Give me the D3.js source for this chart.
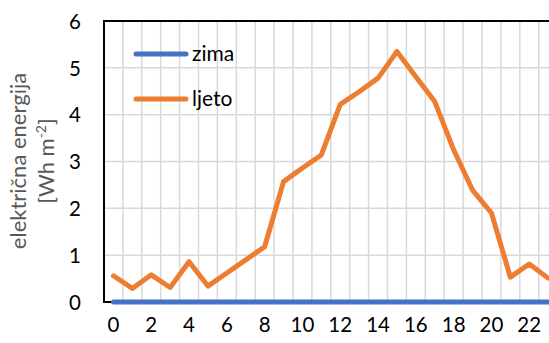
<!DOCTYPE html>
<html><head><meta charset="utf-8">
<script src="https://cdn.jsdelivr.net/npm/d3@7"></script>
<style>body{margin:0;background:#fff;overflow:hidden}svg{display:block}</style>
</head><body>
<script>
const hours = d3.range(0, 24);
const xTickLabels = [0,2,4,6,8,10,12,14,16,18,20,22];
const yTicks = [0,1,2,3,4,5,6];
const zima = [0,0,0,0,0,0,0,0,0,0,0,0,0,0,0,0,0,0,0,0,0,0,0,0];
const ljeto = [0.56,0.29,0.58,0.31,0.86,0.34,0.62,0.9,1.18,2.57,2.86,3.14,4.22,4.49,4.78,5.35,4.81,4.28,3.25,2.39,1.9,0.53,0.81,0.51];
const seriesNames = ["zima","ljeto"];
const colors = ["#4472C4","#ED7D31"];

(function(){
const W = 549, H = 343;
const font = "Lato, 'Open Sans', sans-serif";
const svg = d3.select("body").append("svg").attr("width", W).attr("height", H);
const pl = 104, pt = 21, pb = 302, band = 18.9;
const x = d3.scaleBand().domain(hours).range([pl, pl + band*24]).paddingInner(0).paddingOuter(0);
const y = d3.scaleLinear().domain([0,6]).range([pb, pt]);
const cx = h => x(h) + x.bandwidth()/2;

// grid
const g = svg.append("g");
g.selectAll("line.v").data(d3.range(1,25)).join("line")
  .attr("x1", i => pl + i*x.bandwidth()).attr("x2", i => pl + i*x.bandwidth())
  .attr("y1", pt).attr("y2", pb).attr("stroke", "#D9D9D9").attr("stroke-width", 1.5);
g.selectAll("line.h").data(yTicks.slice(1,6)).join("line")
  .attr("x1", pl).attr("x2", W).attr("y1", d => y(d)).attr("y2", d => y(d))
  .attr("stroke", "#D9D9D9").attr("stroke-width", 1.5);

// frame
svg.append("line").attr("x1", pl).attr("x2", W).attr("y1", pt).attr("y2", pt).attr("stroke", "#000").attr("stroke-width", 2);
svg.append("line").attr("x1", pl).attr("x2", pl).attr("y1", pt-1).attr("y2", pb+1).attr("stroke", "#000").attr("stroke-width", 2);
svg.append("line").attr("x1", pl-1).attr("x2", W).attr("y1", pb).attr("y2", pb).attr("stroke", "#000").attr("stroke-width", 2);

// axes labels
const yAxis = d3.axisLeft(y).tickValues(yTicks).tickFormat(d3.format("d")).tickSize(0).tickPadding(0);
const ya = svg.append("g").attr("transform", `translate(81,0)`).call(yAxis);
ya.select(".domain").remove();
ya.selectAll("text").attr("font-family", font).attr("font-size", 20.5).attr("fill", "#000").attr("dy", "0.35em");

const xAxis = d3.axisBottom(x).tickValues(xTickLabels).tickSize(0).tickPadding(0);
const xa = svg.append("g").attr("transform", `translate(0,317)`).call(xAxis);
xa.select(".domain").remove();
xa.selectAll("text").attr("font-family", font).attr("font-size", 20.5).attr("fill", "#000").attr("dy", "0.71em");

// lines
const line = d3.line().x((d,i) => cx(hours[i])).y(d => y(d));
[zima, ljeto].forEach((s, k) => {
  svg.append("path").datum(s).attr("d", line).attr("fill", "none")
    .attr("stroke", colors[k]).attr("stroke-width", 5)
    .attr("stroke-linejoin", "round").attr("stroke-linecap", "round");
});

// legend
const legY = [54, 99];
seriesNames.forEach((n, k) => {
  svg.append("line").attr("x1", 136).attr("x2", 186).attr("y1", legY[k]).attr("y2", legY[k])
    .attr("stroke", colors[k]).attr("stroke-width", 5).attr("stroke-linecap", "round");
  svg.append("text").attr("x", 192).attr("y", legY[k]).attr("dy", "0.35em")
    .attr("font-family", font).attr("font-size", 21).attr("fill", "#000").text(n);
});

// y title
const t = svg.append("text").attr("transform", "translate(33,161) rotate(-90)")
  .attr("text-anchor", "middle").attr("font-family", font).attr("font-size", 22).attr("fill", "#595959");
t.append("tspan").attr("x", 0).attr("dy", "-0.3em").text("električna energija");
const t2 = t.append("tspan").attr("x", 0).attr("dy", "1.25em");
t2.append("tspan").text("[Wh m");
t2.append("tspan").attr("baseline-shift", "super").attr("font-size", 14).text("-2");
t2.append("tspan").text("]");
})();
</script>
</body></html>
